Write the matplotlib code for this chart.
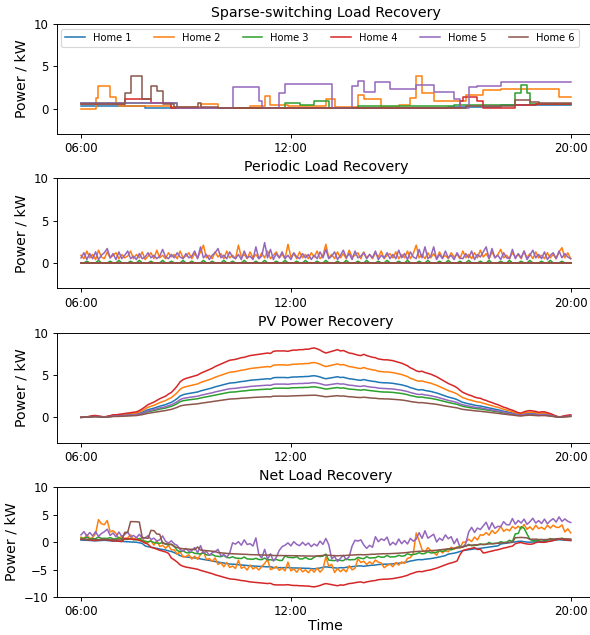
import numpy as np
import pandas as pd
import matplotlib
matplotlib.use("Agg")
import matplotlib.pyplot as plt
import matplotlib.dates as mdates

homes = ["Home 1", "Home 2", "Home 3", "Home 4", "Home 5", "Home 6"]
colors = ["#1f77b4", "#ff7f0e", "#2ca02c", "#d62728", "#9467bd", "#8c564b"]

# 5-minute samples 06:00 .. 20:00
time = pd.date_range("2021-06-01 06:00", "2021-06-01 20:00", freq="5min")

# sparse-switching loads as (switch time, kW) steps
sparse_h1 = [("06:00", 0.35), ("07:50", 0.05), ("16:30", 0.2), ("18:00", 0.45)]
sparse_h2 = [("06:00", 0.0), ("06:25", 1.3), ("06:30", 2.7), ("06:50", 1.4), ("07:00", 0.6),
             ("07:05", 0.35), ("08:35", 0.2), ("09:25", 0.55), ("09:55", 0.1), ("10:50", 0.3),
             ("11:15", 1.45), ("11:25", 0.45), ("11:55", 0.3), ("13:00", 1.1), ("13:15", 0.2),
             ("13:55", 1.55), ("14:05", 1.1), ("14:35", 0.2), ("15:05", 0.45), ("15:25", 1.3),
             ("15:35", 3.9), ("15:45", 1.9), ("16:05", 0.9), ("17:00", 1.6), ("17:30", 2.2),
             ("18:00", 2.3), ("19:40", 1.4)]
sparse_h3 = [("06:00", 0.7), ("08:45", 0.1), ("11:50", 0.65), ("12:15", 0.45), ("12:40", 0.85),
             ("13:05", 0.1), ("13:55", 0.25), ("16:40", 0.45), ("18:25", 1.8), ("18:35", 2.8),
             ("18:45", 1.8), ("18:50", 0.55)]
sparse_h4 = [("06:00", 0.5), ("07:15", 1.1), ("08:00", 0.7), ("08:35", 0.05), ("16:50", 0.9),
             ("16:55", 1.4), ("17:20", 0.95), ("17:30", 0.1), ("18:25", 0.4), ("19:00", 0.6)]
sparse_h5 = [("06:00", 0.7), ("08:45", 0.05), ("10:20", 2.55), ("11:05", 0.95), ("11:10", 0.05),
             ("11:40", 1.8), ("11:50", 2.85), ("13:10", 0.05), ("13:45", 2.65), ("13:55", 3.25),
             ("14:05", 2.0), ("14:25", 3.1), ("14:50", 2.3), ("15:35", 2.8), ("16:05", 2.0),
             ("16:40", 1.15), ("16:50", 0.05), ("17:05", 2.55), ("17:20", 2.7), ("18:00", 3.1),
             ("18:45", 3.2)]
sparse_h6 = [("06:00", 0.5), ("07:15", 1.9), ("07:25", 3.9), ("07:45", 1.15), ("08:00", 2.65),
             ("08:10", 2.1), ("08:20", 0.5), ("08:40", 0.2), ("09:20", 0.7), ("09:25", 0.2),
             ("09:55", 0.05), ("17:00", 0.25), ("18:25", 1.0), ("18:50", 0.75), ("19:05", 0.65)]

# periodic loads, kW every 5 min
periodic_h1 = [0.0] * 169
periodic_h2 = [0.9, 0.5, 1.4, 0.6, 1.0, 0.4, 1.5, 0.7, 0.5, 1.3, 0.6, 0.9,
               1.2, 0.5, 1.0, 0.6, 0.8, 1.4, 0.5, 1.0, 0.6, 1.3, 0.4, 0.8,
               1.2, 0.5, 1.5, 0.6, 0.9, 0.5, 1.2, 0.7, 1.0, 0.5, 1.4, 0.6,
               0.8, 1.2, 0.5, 1.1, 0.6, 1.3, 2.1, 0.6, 0.9, 0.5, 1.3, 0.7,
               1.1, 0.5, 1.4, 0.6, 0.9, 0.5, 2.1, 0.7, 1.0, 0.5, 1.3, 0.6,
               1.0, 0.5, 1.2, 0.6, 1.4, 0.5, 0.9, 1.3, 0.6, 1.0, 0.5, 2.2,
               0.7, 1.1, 0.5, 1.3, 0.6, 1.0, 0.5, 1.2, 0.7, 1.4, 0.5, 0.9,
               2.2, 0.6, 1.0, 0.5, 1.3, 0.6, 1.1, 0.5, 1.5, 0.7, 0.9, 1.2,
               0.5, 1.3, 0.6, 1.0, 0.5, 1.2, 0.7, 1.4, 0.5, 0.9, 1.1, 0.6,
               1.3, 0.5, 1.0, 0.6, 1.4, 0.5, 1.1, 2.1, 0.6, 1.0, 0.5, 1.2,
               0.6, 1.1, 0.5, 1.3, 0.6, 0.9, 0.5, 1.2, 0.7, 1.0, 0.5, 1.4,
               0.6, 1.0, 0.5, 1.2, 0.6, 1.5, 0.7, 1.1, 0.5, 1.3, 0.6, 1.0,
               1.6, 0.6, 0.9, 0.5, 1.2, 0.7, 1.0, 0.5, 1.4, 0.6, 1.1, 0.5,
               1.3, 0.6, 0.9, 0.5, 1.2, 0.6, 1.0, 0.5, 1.3, 1.8, 0.6, 1.2,
               0.5]
periodic_h3 = [0.0, 0.0, 0.2, 0.0, 0.0, 0.0, 0.3, 0.0, 0.0, 0.0, 0.2, 0.0,
               0.0, 0.3, 0.0, 0.0, 0.0, 0.2, 0.0, 0.0, 0.3, 0.0, 0.0, 0.0,
               0.2, 0.0, 0.0, 0.0, 0.3, 0.0, 0.0, 0.2, 0.0, 0.0, 0.0, 0.3,
               0.0, 0.0, 0.2, 0.0, 0.0, 0.0, 0.3, 0.0, 0.0, 0.2, 0.0, 0.0,
               0.0, 0.3, 0.0, 0.0, 0.2, 0.0, 0.0, 0.0, 0.3, 0.0, 0.0, 0.0,
               0.2, 0.0, 0.0, 0.3, 0.0, 0.0, 0.0, 0.2, 0.0, 0.0, 0.3, 0.0,
               0.0, 0.0, 0.2, 0.0, 0.0, 0.3, 0.0, 0.0, 0.0, 0.2, 0.0, 0.0,
               0.3, 0.0, 0.0, 0.0, 0.2, 0.0, 0.0, 0.3, 0.0, 0.0, 0.0, 0.2,
               0.0, 0.0, 0.3, 0.0, 0.0, 0.0, 0.2, 0.0, 0.0, 0.3, 0.0, 0.0,
               0.0, 0.2, 0.0, 0.0, 0.3, 0.0, 0.0, 0.0, 0.2, 0.0, 0.0, 0.3,
               0.0, 0.0, 0.0, 0.2, 0.0, 0.0, 0.3, 0.0, 0.0, 0.0, 0.2, 0.0,
               0.0, 0.3, 0.0, 0.0, 0.0, 0.2, 0.0, 0.0, 0.3, 0.0, 0.0, 0.0,
               0.2, 0.0, 0.0, 0.3, 0.0, 0.0, 0.0, 0.2, 0.0, 0.0, 0.3, 0.0,
               0.0, 0.0, 0.2, 0.0, 0.0, 0.3, 0.0, 0.0, 0.0, 0.2, 0.0, 0.0,
               0.0]
periodic_h4 = [0.0] * 169
periodic_h5 = [0.6, 1.2, 0.4, 1.1, 0.5, 1.3, 0.4, 0.9, 1.2, 1.7, 0.6, 1.1,
               0.4, 1.3, 0.5, 0.9, 1.4, 0.5, 0.8, 0.4, 1.1, 0.5, 0.7, 1.2,
               0.6, 0.9, 0.5, 0.8, 1.6, 0.7, 0.5, 1.0, 0.6, 1.2, 0.7, 0.5,
               1.1, 0.6, 0.8, 1.4, 0.5, 1.9, 0.6, 1.0, 0.4, 0.9, 1.2, 1.7,
               0.6, 0.9, 0.5, 1.3, 0.7, 0.5, 1.0, 0.4, 1.4, 0.6, 0.8, 0.4,
               1.9, 0.5, 0.8, 2.4, 0.6, 1.6, 0.4, 1.1, 0.6, 1.3, 0.5, 0.9,
               0.4, 1.2, 0.7, 0.5, 1.1, 0.6, 1.0, 0.4, 0.9, 0.5, 1.3, 0.6,
               1.6, 0.5, 0.8, 1.3, 0.4, 0.9, 1.5, 0.6, 1.1, 0.4, 1.4, 0.6,
               0.8, 1.2, 0.5, 1.0, 0.6, 1.4, 0.4, 0.9, 0.6, 1.2, 0.5, 1.0,
               0.5, 1.5, 0.6, 1.1, 0.4, 1.3, 0.7, 0.5, 1.6, 0.6, 1.9, 0.5,
               0.8, 1.9, 0.4, 1.0, 0.5, 1.4, 0.6, 0.9, 0.4, 1.2, 0.6, 0.5,
               1.1, 0.6, 1.4, 0.4, 1.0, 0.7, 1.3, 1.9, 0.5, 1.7, 0.6, 0.9,
               0.4, 1.2, 0.6, 0.5, 1.6, 0.5, 1.1, 0.6, 1.4, 0.4, 0.9, 1.5,
               0.6, 1.0, 0.5, 1.3, 0.4, 0.9, 1.2, 0.5, 1.4, 0.6, 1.1, 0.7,
               0.5]
periodic_h6 = [0.0] * 169

# PV generation, kW every 5 min
pv_h1 = [0.00, 0.01, 0.03, 0.07, 0.12, 0.13, 0.09, 0.06, 0.03, 0.07, 0.12, 0.18,
         0.18, 0.21, 0.24, 0.27, 0.30, 0.33, 0.36, 0.39, 0.48, 0.60, 0.75, 0.90,
         0.99, 1.08, 1.20, 1.32, 1.41, 1.50, 1.65, 1.77, 1.98, 2.22, 2.52, 2.67,
         2.76, 2.82, 2.88, 2.94, 3.00, 3.12, 3.21, 3.30, 3.39, 3.48, 3.60, 3.69,
         3.78, 3.87, 3.96, 4.05, 4.08, 4.11, 4.17, 4.23, 4.26, 4.32, 4.38, 4.41,
         4.44, 4.47, 4.50, 4.53, 4.56, 4.53, 4.68, 4.71, 4.71, 4.71, 4.71, 4.68,
         4.74, 4.77, 4.77, 4.80, 4.80, 4.83, 4.83, 4.89, 4.92, 4.86, 4.77, 4.65,
         4.56, 4.62, 4.68, 4.74, 4.80, 4.71, 4.74, 4.65, 4.56, 4.53, 4.47, 4.41,
         4.38, 4.47, 4.38, 4.32, 4.26, 4.23, 4.14, 4.11, 4.08, 4.08, 4.05, 4.02,
         3.96, 3.90, 3.84, 3.75, 3.66, 3.51, 3.42, 3.30, 3.24, 3.27, 3.18, 3.12,
         3.06, 2.97, 2.88, 2.76, 2.64, 2.52, 2.40, 2.31, 2.22, 2.10, 1.92, 1.77,
         1.68, 1.59, 1.53, 1.44, 1.38, 1.35, 1.26, 1.20, 1.11, 1.05, 0.96, 0.90,
         0.81, 0.72, 0.66, 0.57, 0.51, 0.42, 0.33, 0.30, 0.39, 0.45, 0.48, 0.45,
         0.42, 0.36, 0.39, 0.39, 0.33, 0.27, 0.18, 0.09, 0.03, 0.06, 0.12, 0.15,
         0.18]
pv_h2 = [0.00, 0.02, 0.04, 0.09, 0.16, 0.17, 0.12, 0.08, 0.04, 0.09, 0.16, 0.24,
         0.24, 0.28, 0.32, 0.36, 0.40, 0.43, 0.47, 0.51, 0.63, 0.79, 0.99, 1.19,
         1.30, 1.42, 1.58, 1.74, 1.86, 1.98, 2.17, 2.33, 2.61, 2.92, 3.32, 3.52,
         3.63, 3.71, 3.79, 3.87, 3.95, 4.11, 4.23, 4.35, 4.46, 4.58, 4.74, 4.86,
         4.98, 5.10, 5.21, 5.33, 5.37, 5.41, 5.49, 5.57, 5.61, 5.69, 5.77, 5.81,
         5.85, 5.89, 5.93, 5.96, 6.00, 5.96, 6.16, 6.20, 6.20, 6.20, 6.20, 6.16,
         6.24, 6.28, 6.28, 6.32, 6.32, 6.36, 6.36, 6.44, 6.48, 6.40, 6.28, 6.12,
         6.00, 6.08, 6.16, 6.24, 6.32, 6.20, 6.24, 6.12, 6.00, 5.96, 5.89, 5.81,
         5.77, 5.89, 5.77, 5.69, 5.61, 5.57, 5.45, 5.41, 5.37, 5.37, 5.33, 5.29,
         5.21, 5.14, 5.06, 4.94, 4.82, 4.62, 4.50, 4.35, 4.27, 4.31, 4.19, 4.11,
         4.03, 3.91, 3.79, 3.63, 3.48, 3.32, 3.16, 3.04, 2.92, 2.77, 2.53, 2.33,
         2.21, 2.09, 2.01, 1.90, 1.82, 1.78, 1.66, 1.58, 1.46, 1.38, 1.26, 1.19,
         1.07, 0.95, 0.87, 0.75, 0.67, 0.55, 0.43, 0.40, 0.51, 0.59, 0.63, 0.59,
         0.55, 0.47, 0.51, 0.51, 0.43, 0.36, 0.24, 0.12, 0.04, 0.08, 0.16, 0.20,
         0.24]
pv_h3 = [0.00, 0.01, 0.02, 0.05, 0.09, 0.10, 0.07, 0.04, 0.02, 0.05, 0.09, 0.13,
         0.13, 0.15, 0.18, 0.20, 0.22, 0.24, 0.26, 0.29, 0.35, 0.44, 0.55, 0.66,
         0.73, 0.79, 0.88, 0.97, 1.03, 1.10, 1.21, 1.30, 1.45, 1.63, 1.85, 1.96,
         2.02, 2.07, 2.11, 2.16, 2.20, 2.29, 2.35, 2.42, 2.49, 2.55, 2.64, 2.71,
         2.77, 2.84, 2.90, 2.97, 2.99, 3.01, 3.06, 3.10, 3.12, 3.17, 3.21, 3.23,
         3.26, 3.28, 3.30, 3.32, 3.34, 3.32, 3.43, 3.45, 3.45, 3.45, 3.45, 3.43,
         3.48, 3.50, 3.50, 3.52, 3.52, 3.54, 3.54, 3.59, 3.61, 3.56, 3.50, 3.41,
         3.34, 3.39, 3.43, 3.48, 3.52, 3.45, 3.48, 3.41, 3.34, 3.32, 3.28, 3.23,
         3.21, 3.28, 3.21, 3.17, 3.12, 3.10, 3.04, 3.01, 2.99, 2.99, 2.97, 2.95,
         2.90, 2.86, 2.82, 2.75, 2.68, 2.57, 2.51, 2.42, 2.38, 2.40, 2.33, 2.29,
         2.24, 2.18, 2.11, 2.02, 1.94, 1.85, 1.76, 1.69, 1.63, 1.54, 1.41, 1.30,
         1.23, 1.17, 1.12, 1.06, 1.01, 0.99, 0.92, 0.88, 0.81, 0.77, 0.70, 0.66,
         0.59, 0.53, 0.48, 0.42, 0.37, 0.31, 0.24, 0.22, 0.29, 0.33, 0.35, 0.33,
         0.31, 0.26, 0.29, 0.29, 0.24, 0.20, 0.13, 0.07, 0.02, 0.04, 0.09, 0.11,
         0.13]
pv_h4 = [0.00, 0.02, 0.05, 0.12, 0.20, 0.22, 0.15, 0.10, 0.05, 0.12, 0.20, 0.30,
         0.30, 0.35, 0.40, 0.45, 0.50, 0.55, 0.60, 0.65, 0.80, 1.00, 1.25, 1.50,
         1.65, 1.80, 2.00, 2.20, 2.35, 2.50, 2.75, 2.95, 3.30, 3.70, 4.20, 4.45,
         4.60, 4.70, 4.80, 4.90, 5.00, 5.20, 5.35, 5.50, 5.65, 5.80, 6.00, 6.15,
         6.30, 6.45, 6.60, 6.75, 6.80, 6.85, 6.95, 7.05, 7.10, 7.20, 7.30, 7.35,
         7.40, 7.45, 7.50, 7.55, 7.60, 7.55, 7.80, 7.85, 7.85, 7.85, 7.85, 7.80,
         7.90, 7.95, 7.95, 8.00, 8.00, 8.05, 8.05, 8.15, 8.20, 8.10, 7.95, 7.75,
         7.60, 7.70, 7.80, 7.90, 8.00, 7.85, 7.90, 7.75, 7.60, 7.55, 7.45, 7.35,
         7.30, 7.45, 7.30, 7.20, 7.10, 7.05, 6.90, 6.85, 6.80, 6.80, 6.75, 6.70,
         6.60, 6.50, 6.40, 6.25, 6.10, 5.85, 5.70, 5.50, 5.40, 5.45, 5.30, 5.20,
         5.10, 4.95, 4.80, 4.60, 4.40, 4.20, 4.00, 3.85, 3.70, 3.50, 3.20, 2.95,
         2.80, 2.65, 2.55, 2.40, 2.30, 2.25, 2.10, 2.00, 1.85, 1.75, 1.60, 1.50,
         1.35, 1.20, 1.10, 0.95, 0.85, 0.70, 0.55, 0.50, 0.65, 0.75, 0.80, 0.75,
         0.70, 0.60, 0.65, 0.65, 0.55, 0.45, 0.30, 0.15, 0.05, 0.10, 0.20, 0.25,
         0.30]
pv_h5 = [0.00, 0.01, 0.03, 0.06, 0.10, 0.11, 0.08, 0.05, 0.03, 0.06, 0.10, 0.15,
         0.15, 0.18, 0.20, 0.23, 0.25, 0.28, 0.30, 0.33, 0.40, 0.50, 0.63, 0.75,
         0.83, 0.90, 1.00, 1.10, 1.18, 1.25, 1.38, 1.48, 1.65, 1.85, 2.10, 2.23,
         2.30, 2.35, 2.40, 2.45, 2.50, 2.60, 2.68, 2.75, 2.83, 2.90, 3.00, 3.08,
         3.15, 3.23, 3.30, 3.38, 3.40, 3.43, 3.48, 3.53, 3.55, 3.60, 3.65, 3.68,
         3.70, 3.73, 3.75, 3.78, 3.80, 3.78, 3.90, 3.93, 3.93, 3.93, 3.93, 3.90,
         3.95, 3.98, 3.98, 4.00, 4.00, 4.03, 4.03, 4.08, 4.10, 4.05, 3.98, 3.88,
         3.80, 3.85, 3.90, 3.95, 4.00, 3.93, 3.95, 3.88, 3.80, 3.78, 3.73, 3.68,
         3.65, 3.73, 3.65, 3.60, 3.55, 3.53, 3.45, 3.43, 3.40, 3.40, 3.38, 3.35,
         3.30, 3.25, 3.20, 3.13, 3.05, 2.93, 2.85, 2.75, 2.70, 2.73, 2.65, 2.60,
         2.55, 2.48, 2.40, 2.30, 2.20, 2.10, 2.00, 1.93, 1.85, 1.75, 1.60, 1.48,
         1.40, 1.33, 1.28, 1.20, 1.15, 1.13, 1.05, 1.00, 0.93, 0.88, 0.80, 0.75,
         0.68, 0.60, 0.55, 0.48, 0.43, 0.35, 0.28, 0.25, 0.33, 0.38, 0.40, 0.38,
         0.35, 0.30, 0.33, 0.33, 0.28, 0.23, 0.15, 0.08, 0.03, 0.05, 0.10, 0.13,
         0.15]
pv_h6 = [0.00, 0.01, 0.02, 0.04, 0.06, 0.07, 0.05, 0.03, 0.02, 0.04, 0.06, 0.10,
         0.10, 0.11, 0.13, 0.14, 0.16, 0.18, 0.19, 0.21, 0.26, 0.32, 0.40, 0.48,
         0.53, 0.58, 0.64, 0.70, 0.75, 0.80, 0.88, 0.94, 1.06, 1.18, 1.34, 1.42,
         1.47, 1.50, 1.54, 1.57, 1.60, 1.66, 1.71, 1.76, 1.81, 1.86, 1.92, 1.97,
         2.02, 2.06, 2.11, 2.16, 2.18, 2.19, 2.22, 2.26, 2.27, 2.30, 2.34, 2.35,
         2.37, 2.38, 2.40, 2.42, 2.43, 2.42, 2.50, 2.51, 2.51, 2.51, 2.51, 2.50,
         2.53, 2.54, 2.54, 2.56, 2.56, 2.58, 2.58, 2.61, 2.62, 2.59, 2.54, 2.48,
         2.43, 2.46, 2.50, 2.53, 2.56, 2.51, 2.53, 2.48, 2.43, 2.42, 2.38, 2.35,
         2.34, 2.38, 2.34, 2.30, 2.27, 2.26, 2.21, 2.19, 2.18, 2.18, 2.16, 2.14,
         2.11, 2.08, 2.05, 2.00, 1.95, 1.87, 1.82, 1.76, 1.73, 1.74, 1.70, 1.66,
         1.63, 1.58, 1.54, 1.47, 1.41, 1.34, 1.28, 1.23, 1.18, 1.12, 1.02, 0.94,
         0.90, 0.85, 0.82, 0.77, 0.74, 0.72, 0.67, 0.64, 0.59, 0.56, 0.51, 0.48,
         0.43, 0.38, 0.35, 0.30, 0.27, 0.22, 0.18, 0.16, 0.21, 0.24, 0.26, 0.24,
         0.22, 0.19, 0.21, 0.21, 0.18, 0.14, 0.10, 0.05, 0.02, 0.03, 0.06, 0.08,
         0.10]


def expand_steps(steps):
    starts = pd.to_datetime(["2021-06-01 " + t for t, _ in steps])
    vals = np.array([v for _, v in steps])
    idx = np.searchsorted(starts.values, time.values, side="right") - 1
    return vals[idx]


sparse = [expand_steps(s) for s in
          [sparse_h1, sparse_h2, sparse_h3, sparse_h4, sparse_h5, sparse_h6]]
periodic = [np.array(p) for p in
            [periodic_h1, periodic_h2, periodic_h3, periodic_h4, periodic_h5, periodic_h6]]
pv = [np.array(p) for p in [pv_h1, pv_h2, pv_h3, pv_h4, pv_h5, pv_h6]]
net = [s + p - g for s, p, g in zip(sparse, periodic, pv)]

fig = plt.figure(figsize=(590 / 85, 635 / 85), dpi=85)
left, width, height = 0.0958, 0.913, 0.1732
bottoms = [0.789, 0.546, 0.3028, 0.0598]
titles = ["Sparse-switching Load Recovery", "Periodic Load Recovery",
          "PV Power Recovery", "Net Load Recovery"]
panels = [sparse, periodic, pv, net]

for k in range(4):
    ax = fig.add_axes([left, bottoms[k], width, height])
    for i in range(6):
        kw = {"drawstyle": "steps-post"} if k == 0 else {}
        ax.plot(time, panels[k][i], color=colors[i], lw=1.3, label=homes[i], **kw)
    ax.set_title(titles[k], fontsize=12)
    ax.set_ylabel("Power / kW", fontsize=12)
    ax.spines["right"].set_visible(False)
    if k == 3:
        ax.set_ylim(-10, 10)
        ax.set_yticks([-10, -5, 0, 5, 10])
        ax.set_xlabel("Time", fontsize=12, labelpad=1)
    else:
        ax.set_ylim(-3, 10)
        ax.set_yticks([0, 5, 10])
    ax.set_xticks([time[0], time[72], time[-1]])
    ax.xaxis.set_major_formatter(mdates.DateFormatter("%H:%M"))
    if k == 0:
        ax.legend(loc="upper left", ncol=6, fontsize="small", columnspacing=2.3)

fig.savefig("out.png", dpi=85)
